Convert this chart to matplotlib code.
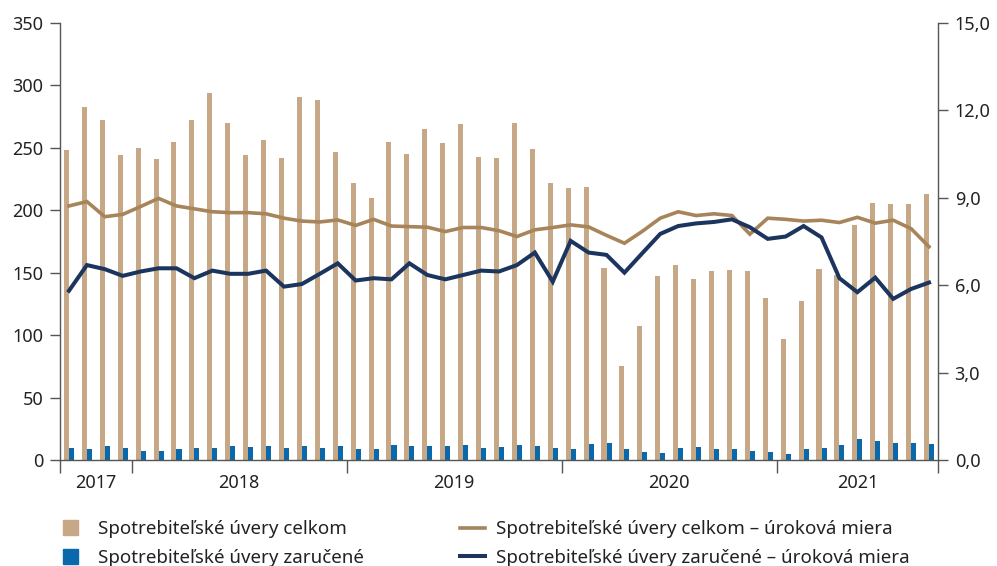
import matplotlib
matplotlib.use('Agg')
import matplotlib.pyplot as plt
import numpy as np
from matplotlib.patches import Patch
from matplotlib.lines import Line2D

plt.rcParams['font.family'] = ['Noto Sans', 'DejaVu Sans']

# mesacne udaje sep 2017 - sep 2021
years = ['2017', '2018', '2019', '2020', '2021']
year_bounds = [0, 4, 16, 28, 40, 49]
year_label_pos = [2, 10, 22, 34, 44.5]

celkom = [248, 283, 272, 244, 250, 241, 255, 272, 294, 270, 244, 256, 242, 291, 288, 247,
          222, 210, 255, 245, 265, 254, 269, 243, 242, 270, 249, 222, 218, 219, 154, 75,
          107, 147, 156, 145, 151, 152, 151, 130, 97, 127, 153, 148, 188, 206, 205, 205, 213]
zarucene = [9.3, 8.5, 11.2, 9.3, 7.5, 7.5, 8.5, 9.3, 9.3, 11.2, 10.2, 11.2, 9.3, 11.2, 9.3, 11.2,
            8.5, 8.5, 12, 11.2, 11.2, 11.2, 12, 9.3, 10.2, 12, 11.2, 9.3, 8.5, 13, 14, 8.5,
            6.7, 5.9, 9.3, 10.2, 8.5, 8.5, 7.5, 6.7, 4.8, 8.5, 9.3, 12, 16.8, 15.2, 13.3, 13.3, 12.8]
ur_celkom = [8.72, 8.87, 8.35, 8.43, 8.70, 8.98, 8.72, 8.62, 8.52, 8.49, 8.49, 8.45, 8.30, 8.20, 8.17, 8.24,
             8.05, 8.26, 8.03, 8.01, 7.99, 7.84, 7.98, 7.98, 7.87, 7.67, 7.90, 7.98, 8.07, 8.00, 7.71, 7.44,
             7.85, 8.30, 8.52, 8.39, 8.45, 8.39, 7.75, 8.30, 8.26, 8.20, 8.23, 8.15, 8.33, 8.13, 8.23, 7.94, 7.32]
ur_zarucene = [5.81, 6.69, 6.55, 6.32, 6.47, 6.58, 6.58, 6.24, 6.50, 6.39, 6.39, 6.50, 5.95, 6.04, 6.39, 6.75,
               6.16, 6.24, 6.20, 6.75, 6.35, 6.20, 6.35, 6.50, 6.47, 6.69, 7.12, 6.12, 7.52, 7.12, 7.04, 6.43,
               7.10, 7.76, 8.03, 8.12, 8.17, 8.26, 7.99, 7.59, 7.67, 8.03, 7.64, 6.24, 5.76, 6.26, 5.53, 5.87, 6.09]

c_tan = '#C6A886'
c_blue = '#0A68AB'
c_gold = '#A8845A'
c_navy = '#1B355E'
c_axis = '#555555'

x = np.arange(len(celkom)) + 0.5
w = 0.28

fig = plt.figure(figsize=(9.97, 5.66), dpi=100)
ax = fig.add_axes([0.0602, 0.1873, 0.8806, 0.7721])
ax2 = ax.twinx()

ax.bar(x - w / 2, celkom, width=w, color=c_tan)
ax.bar(x + w / 2, zarucene, width=w, color=c_blue)
ax2.plot(x, ur_celkom, color=c_gold, lw=2.6, solid_joinstyle='miter')
ax2.plot(x, ur_zarucene, color=c_navy, lw=2.9, solid_joinstyle='miter')

ax.set_xlim(0, len(celkom))
ax.set_ylim(0, 350)
ax2.set_ylim(0, 15)
ax.set_yticks(np.arange(0, 351, 50))
ax2.set_yticks(np.arange(0, 15.1, 3))
ax2.set_yticklabels([f'{v:.1f}'.replace('.', ',') for v in np.arange(0, 15.1, 3)])

ax.set_xticks(year_bounds)
ax.set_xticklabels([])
ax.set_xticks(year_label_pos, minor=True)
ax.set_xticklabels(years, minor=True)
ax.tick_params(axis='x', which='major', length=9, width=1, color=c_axis)
ax.tick_params(axis='x', which='minor', length=0, pad=10, labelsize=13, labelcolor='#222222')

for a in (ax, ax2):
    a.spines['top'].set_visible(False)
    for s in ('left', 'right', 'bottom'):
        a.spines[s].set_color(c_axis)
        a.spines[s].set_linewidth(1)
    a.tick_params(axis='y', length=7, width=1, color=c_axis, labelsize=13, labelcolor='#222222', pad=5)
ax.spines['right'].set_visible(False)
ax2.spines['left'].set_visible(False)
ax2.spines['bottom'].set_visible(False)

h1 = [Patch(color=c_tan), Patch(color=c_blue)]
l1 = ['Spotrebiteľské úvery celkom', 'Spotrebiteľské úvery zaručené']
h2 = [Line2D([], [], color=c_gold, lw=2.6), Line2D([], [], color=c_navy, lw=2.9)]
l2 = ['Spotrebiteľské úvery celkom – úroková miera', 'Spotrebiteľské úvery zaručené – úroková miera']
leg1 = fig.legend(h1, l1, loc='center left', bbox_to_anchor=(0.063, 0.04), frameon=False,
                  fontsize=13.5, handlelength=0.8, handleheight=0.85, handletextpad=1.1,
                  labelspacing=0.55, borderaxespad=0, borderpad=0)
leg2 = fig.legend(h2, l2, loc='center left', bbox_to_anchor=(0.461, 0.04), frameon=False,
                  fontsize=13.5, handlelength=1.35, handletextpad=0.6,
                  labelspacing=0.55, borderaxespad=0, borderpad=0)
for leg in (leg1, leg2):
    for t in leg.get_texts():
        t.set_color('#222222')

fig.savefig('out.png', dpi=100)
